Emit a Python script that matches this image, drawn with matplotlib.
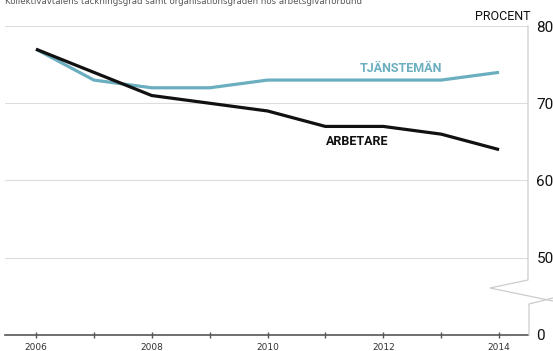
import matplotlib
matplotlib.use('Agg')
from matplotlib import pyplot as plt
from matplotlib.lines import Line2D

years = [2006, 2007, 2008, 2009, 2010, 2011, 2012, 2013, 2014]
tjansteman = [77, 73, 72, 72, 73, 73, 73, 73, 74]
arbetare = [77, 74, 71, 70, 69, 67, 67, 66, 64]
ytick_pos = [40, 50, 60, 70, 80]
ytick_lab = ['0', '50', '60', '70', '80']
xtick_lab = ['2006', '', '2008', '', '2010', '', '2012', '', '2014']

teal = '#6aaebf'
cond = 'Roboto'

fig = plt.figure(figsize=(5.53, 3.51), dpi=100)
ax = fig.add_axes([5/553, 1-335/351, 523/553, 309/351])
ax.set_xlim(2005.465, 2014.5)
ax.set_ylim(40, 80)

for v in [50, 60, 70, 80]:
    ax.axhline(v, color='#dddddd', lw=0.8, zorder=0)

ax.plot(years, tjansteman, color=teal, lw=2.3, solid_capstyle='butt')
ax.plot(years, arbetare, color='#111111', lw=2.3, solid_capstyle='butt')

ax.text(2012.3, 74.5, 'TJÄNSTEMÄN', color=teal, fontsize=9, fontweight='bold',
        family=cond, ha='center', va='center')
ax.text(2011.55, 65.1, 'ARBETARE', color='#111111', fontsize=9, fontweight='bold',
        family=cond, ha='center', va='center')

for s in ['top', 'left', 'right']:
    ax.spines[s].set_visible(False)
ax.spines['bottom'].set_color('#555555')
ax.spines['bottom'].set_linewidth(1.2)

ax.set_xticks(years)
ax.set_xticklabels(xtick_lab, fontsize=6.5, color='#333333')
ax.tick_params(axis='x', length=5, width=1, color='#555555', direction='inout', pad=3)
ax.yaxis.tick_right()
ax.set_yticks(ytick_pos)
ax.set_yticklabels(ytick_lab, fontsize=11, family=cond, color='#111111')
ax.tick_params(axis='y', length=0, pad=6)

# right axis with break mark (figure pixel coords)
W, H = 553, 351
def px(xs, ys):
    return [x / W for x in xs], [1 - y / H for y in ys]
for xs, ys in [([528, 528, 490, 553], [26, 280, 288, 301]),
               ([553, 529, 529], [298, 304, 335])]:
    fx, fy = px(xs, ys)
    fig.add_artist(Line2D(fx, fy, color='#cccccc', lw=0.9))

fig.text(530/553, 1-16/351, 'PROCENT', fontsize=9, family=cond, color='#111111',
         ha='right', va='center')
fig.text(5/553, 1-4/351, 'Kollektivavtalens täckningsgrad samt organisationsgraden hos arbetsgivarförbund',
         fontsize=6.2, color='#555555', ha='left', va='baseline')

fig.savefig('out.png', dpi=100)
